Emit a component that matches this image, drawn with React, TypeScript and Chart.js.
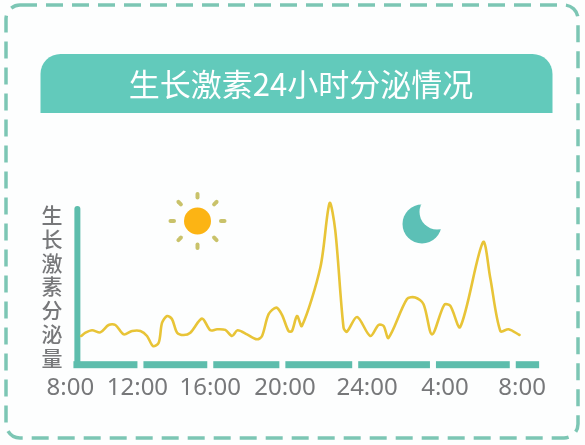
import { useEffect, useRef } from "react";
import { Chart, registerables } from "chart.js";

Chart.register(...registerables);

const titleText = "生长激素24小时分泌情况";
const yAxisName = "生长激素分泌量";
const tickLabels = ["8:00", "12:00", "16:00", "20:00", "24:00", "4:00", "8:00"];
const tickHours = [0, 3.56, 7.43, 11.4, 15.76, 19.9, 24];
const axisGapHours = [3.72, 7.43, 11.26, 15.13, 19.26, 23.5];
const hours = [
  0.57, 0.8, 1.15, 1.59, 2.03, 2.39, 2.83, 3.28, 3.72, 4.07, 4.39, 4.69, 4.87, 5.14, 5.4, 5.67, 6.02, 6.37, 6.99,
  7.43, 7.79, 8.23, 8.59, 8.88, 9.38, 9.91, 10.18, 10.53, 10.94, 11.24, 11.59, 11.77, 12.04, 12.3, 13.28, 13.77,
  14.07, 14.51, 14.69, 15.23, 15.93, 16.37, 16.64, 16.9, 17.88, 18.32, 18.76, 19.21, 19.86, 20.18, 20.71, 21.92,
  22.3, 22.84, 23.28, 23.86,
];
const secretion = [
  17.2, 19.2, 20.7, 19.4, 23.9, 23.9, 18.2, 20.2, 20.2, 17.2, 11, 13.1, 25.3, 29.4, 27.4, 19.2, 17.8, 19.2, 27.8,
  20.7, 21.3, 20.9, 17.2, 20.7, 18.2, 15.2, 17.2, 30.5, 34.5, 30.1, 20.2, 20.2, 29.4, 23.3, 59.1, 98.3, 81.6, 22.3,
  19.8, 28.8, 17.2, 23.9, 23.3, 16.1, 39.7, 40.7, 36.6, 18.2, 36.2, 35.6, 22.7, 74.4, 52.9, 20.2, 21.3, 17.8,
];

const TEAL = "#62cabb";
const AXIS = "#5dbdac";
const GREY = "#77787a";
const CJK = '"Noto Sans CJK SC"';

const decoration = {
  id: "decoration",
  beforeDraw(chart: any) {
    const c = chart.ctx;
    c.save();
    c.fillStyle = "#fdfefe";
    c.fillRect(0, 0, chart.width, chart.height);
    // dashed card
    c.strokeStyle = "#7cc6b4";
    c.lineWidth = 3.5;
    c.setLineDash([17, 9]);
    c.beginPath();
    c.roundRect(6, 5, 572, 433, 14);
    c.stroke();
    c.setLineDash([]);
    // banner
    c.fillStyle = TEAL;
    c.beginPath();
    c.roundRect(40.5, 54, 512, 59, [20, 20, 0, 0]);
    c.fill();
    // sun
    const sx = 197.5;
    const sy = 221;
    c.fillStyle = "#fcb414";
    c.beginPath();
    c.arc(sx, sy, 13.5, 0, Math.PI * 2);
    c.fill();
    c.strokeStyle = "#c9c26a";
    c.lineWidth = 4;
    c.lineCap = "round";
    for (let i = 0; i < 8; i++) {
      const a = (i * Math.PI) / 4;
      c.beginPath();
      c.moveTo(sx + Math.cos(a) * 23.5, sy + Math.sin(a) * 23.5);
      c.lineTo(sx + Math.cos(a) * 27, sy + Math.sin(a) * 27);
      c.stroke();
    }
    // moon
    c.fillStyle = "#5cc0b6";
    c.beginPath();
    c.arc(422, 224, 19.5, 0, Math.PI * 2);
    c.fill();
    c.fillStyle = "#fdfefe";
    c.beginPath();
    c.arc(437, 212, 17.5, 0, Math.PI * 2);
    c.fill();
    // y axis name
    c.fillStyle = GREY;
    c.font = `500 21px ${CJK}`;
    c.textAlign = "center";
    c.textBaseline = "middle";
    [...yAxisName].forEach((ch, i) => c.fillText(ch, 52, 215 + i * 23.8));
    c.restore();
  },
  beforeDatasetsDraw(chart: any) {
    const c = chart.ctx;
    const x = chart.scales.x;
    const y = chart.scales.y;
    const base = y.getPixelForValue(0);
    c.save();
    c.fillStyle = AXIS;
    const stops = [x.getPixelForValue(0.16), ...axisGapHours.map((h) => x.getPixelForValue(h)), x.getPixelForValue(24.9)];
    for (let i = 0; i < stops.length - 1; i++) {
      const a = stops[i] + (i === 0 ? 0 : 3);
      const b = stops[i + 1] - (i === stops.length - 2 ? 0 : 3);
      c.fillRect(a, base - 3, b - a, 7);
    }
    const ax = x.getPixelForValue(0.37);
    c.beginPath();
    c.roundRect(ax - 3, y.getPixelForValue(96.5), 6, base - y.getPixelForValue(96.5), 3);
    c.fill();
    c.restore();
  },
};

export default function App() {
  const ref = useRef<HTMLCanvasElement>(null);
  useEffect(() => {
    const chart = new Chart(ref.current!, {
      type: "line",
      data: {
        datasets: [
          {
            data: hours.map((h, i) => ({ x: h, y: secretion[i] })),
            borderColor: "#e8c437",
            borderWidth: 2.6,
            pointRadius: 0,
            tension: 0.3,
            borderCapStyle: "round",
            borderJoinStyle: "round",
            clip: false,
          },
        ],
      },
      options: {
        responsive: false,
        animation: false,
        devicePixelRatio: 1,
        layout: { padding: { left: 61, right: 44, top: 0, bottom: 32 } },
        plugins: {
          legend: { display: false },
          tooltip: { enabled: false },
          title: {
            display: true,
            text: titleText,
            color: "#ffffff",
            font: { family: CJK, size: 31, weight: "normal" },
            padding: { top: 66, bottom: 97 },
          },
        },
        scales: {
          x: {
            type: "linear",
            min: -0.5,
            max: 25,
            grid: { display: false, drawTicks: false },
            border: { display: false },
            afterBuildTicks: (s: any) => {
              s.ticks = tickHours.map((value) => ({ value }));
            },
            afterFit: (s: any) => {
              s.paddingLeft = 0;
              s.paddingRight = 0;
            },
            ticks: {
              autoSkip: false,
              maxRotation: 0,
              padding: 10,
              color: GREY,
              font: { family: '"Noto Sans"', size: 24 },
              callback: (_v: any, i: number) => tickLabels[i],
            },
          },
          y: { display: false, min: 0, max: 100 },
        },
      },
      plugins: [decoration],
    } as any);
    return () => chart.destroy();
  }, []);
  return <canvas ref={ref} width={585} height={445} style={{ position: "fixed", left: 0, top: 0, display: "block" }} />;
}
